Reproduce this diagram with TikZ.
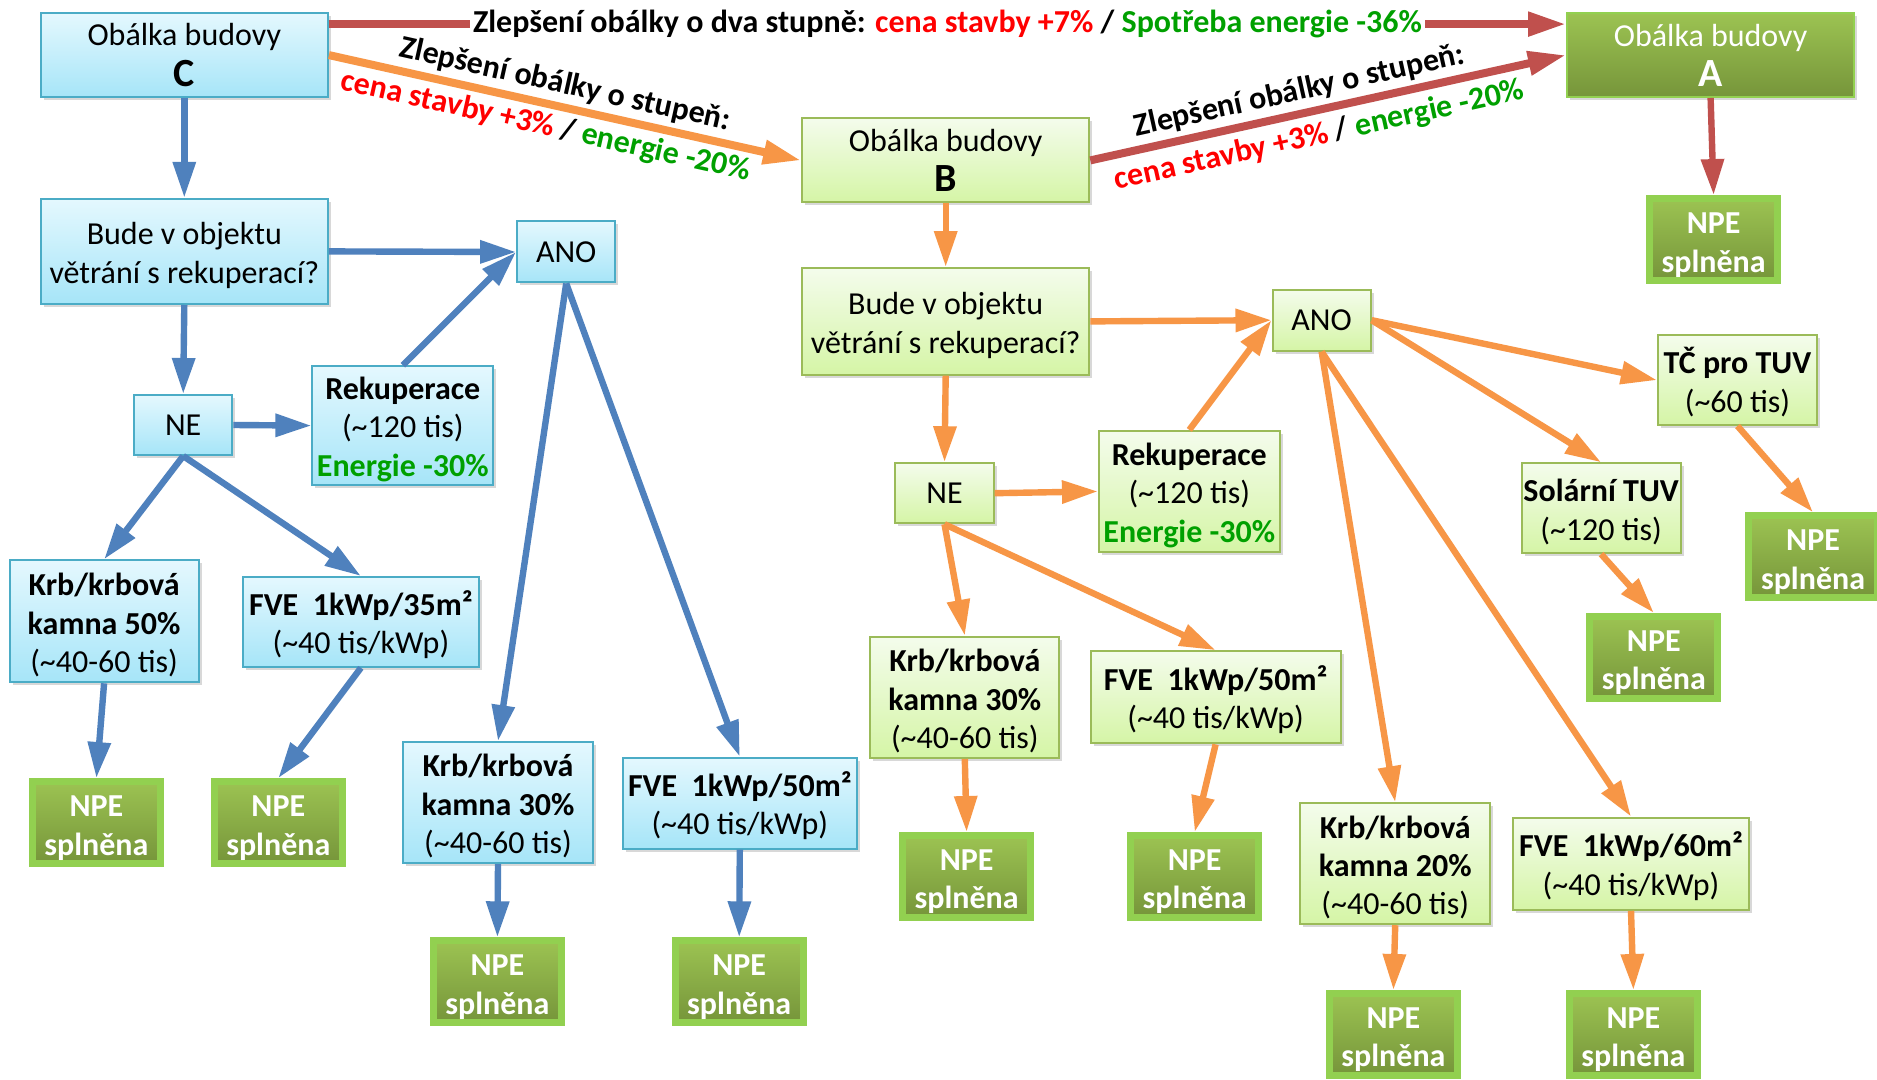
\documentclass[tikz,border=0pt]{standalone}
\usepackage{fontspec}
\setmainfont{Carlito}
\usetikzlibrary{arrows.meta,shadows,calc}
\definecolor{lineblue}{HTML}{4F81BD}
\definecolor{lineorange}{HTML}{F79646}
\definecolor{linered}{HTML}{C0504D}
\definecolor{txtred}{HTML}{FF0000}
\definecolor{txtgreen}{HTML}{00A000}
\definecolor{bluetop}{HTML}{E4F8FE}
\definecolor{bluebot}{HTML}{A6E5F8}
\definecolor{blueedge}{HTML}{4BACC6}
\definecolor{greentop}{HTML}{F4FCEC}
\definecolor{greenbot}{HTML}{D5F5A6}
\definecolor{greenedge}{HTML}{9BBB59}
\definecolor{darktop}{HTML}{9CC352}
\definecolor{darkbot}{HTML}{76953A}
\definecolor{darkedge}{HTML}{92D050}
\newcommand{\bigletter}[1]{{\fontsize{20}{24}\selectfont\textbf{#1}}}
\newcommand{\topstrut}{\rule{0pt}{15pt}}
\newcommand{\npetext}{\rule{0pt}{16pt}NPE\\splněna}
\tikzset{
  base/.style={align=center, inner sep=0pt,
    font=\fontsize{16}{19.2}\selectfont,
    drop shadow={shadow xshift=1.5pt, shadow yshift=-1.5pt, opacity=0.3}},
  bluebox/.style={base, draw=blueedge, line width=1pt, top color=bluetop, bottom color=bluebot},
  greenbox/.style={base, draw=greenedge, line width=1pt, top color=greentop, bottom color=greenbot},
  abox/.style={base, draw=darkedge, line width=1pt, top color=darktop, bottom color=darkbot, text=white},
  npebox/.style={base, draw=darkedge, line width=3.5pt, top color=darktop, bottom color=darkbot,
    text=white, font=\bfseries\fontsize{16}{19.2}\selectfont,
    minimum width=64.1pt, minimum height=40.8pt},
  tipstyle/.style={-{Triangle[length=18pt,width=11pt]}},
  bluearrow/.style={draw=lineblue, line width=3.2pt, tipstyle},
  orarrow/.style={draw=lineorange, line width=3.2pt, tipstyle},
  redarrow/.style={draw=linered, line width=3.2pt, tipstyle},
  bigred/.style={draw=linered, line width=4pt, -{Triangle[length=19pt,width=11.5pt]}},
  bigor/.style={draw=lineorange, line width=4pt, -{Triangle[length=19pt,width=11.5pt]}},
  lbl/.style={font=\bfseries\fontsize{16}{19.2}\selectfont, inner sep=1.5pt},
  slbl/.style={font=\bfseries\fontsize{16}{19.2}\selectfont, inner sep=2.3pt},
}
\begin{document}
\begin{tikzpicture}[x=0.5pt,y=-0.5pt]
\useasboundingbox[fill=white] (0,0) rectangle (1877,1080);

% top row
\node[bluebox, minimum width=143.6pt, minimum height=41.9pt] (C) at (184.3,55.1) {Obálka budovy\\[1pt]\bigletter{C}};
\node[abox, minimum width=143.6pt, minimum height=41.9pt] (A) at (1710.6,55.1) {Obálka budovy\\[1pt]\bigletter{A}};
\node[greenbox, minimum width=143.6pt, minimum height=41.9pt] (B) at (945.7,160.4) {Obálka budovy\\[0.5pt]\bigletter{B}};
\node[npebox] (npe9) at (1713.6,239.4) {\npetext};

% left (blue) branch
\node[bluebox, minimum width=143.6pt, minimum height=52.6pt] (ql) at (184.3,251.4) {\topstrut Bude v objektu\\větrání s rekuperací?};
\node[bluebox, minimum width=49.1pt, minimum height=30.5pt] (ano1) at (566.2,252) {ANO};
\node[bluebox, minimum width=49.1pt, minimum height=30pt] (ne1) at (183.2,425) {NE};
\node[bluebox, minimum width=90.4pt, minimum height=59.3pt] (rek1) at (402.8,425.6) {\topstrut\textbf{Rekuperace}\\(\textasciitilde120 tis)\\\textbf{\textcolor{txtgreen}{Energie -30\%}}};
\node[bluebox, minimum width=94.6pt, minimum height=61pt] (krb50) at (104.1,621.3) {\topstrut\textbf{Krb/krbová}\\\textbf{kamna 50\%}\\(\textasciitilde40-60 tis)};
\node[bluebox, minimum width=117.9pt, minimum height=44.9pt] (fve35) at (360.9,621.9) {\topstrut\textbf{FVE\ \ 1kWp/35m²}\\(\textasciitilde40 tis/kWp)};
\node[npebox] (npe1) at (96.4,822.4) {\npetext};
\node[npebox] (npe2) at (278.3,822.4) {\npetext};
\node[bluebox, minimum width=94.6pt, minimum height=60.5pt] (krb30b) at (498,802.6) {\topstrut\textbf{Krb/krbová}\\\textbf{kamna 30\%}\\(\textasciitilde40-60 tis)};
\node[bluebox, minimum width=117.3pt, minimum height=45.5pt] (fve50b) at (739.8,803.2) {\topstrut\textbf{FVE\ \ 1kWp/50m²}\\(\textasciitilde40 tis/kWp)};
\node[npebox] (npe3) at (497.4,981.6) {\npetext};
\node[npebox] (npe4) at (739.2,981.6) {\npetext};

% right (green) branch
\node[greenbox, minimum width=143.6pt, minimum height=53.3pt] (qg) at (945.7,321.4) {\topstrut Bude v objektu\\větrání s rekuperací?};
\node[greenbox, minimum width=49.1pt, minimum height=30.5pt] (ano2) at (1321.6,320.2) {ANO};
\node[greenbox, minimum width=49.1pt, minimum height=30pt] (ne2) at (944.5,493.2) {NE};
\node[greenbox, minimum width=90.4pt, minimum height=60.5pt] (rek2) at (1189.3,491.4) {\topstrut\textbf{Rekuperace}\\(\textasciitilde120 tis)\\\textbf{\textcolor{txtgreen}{Energie -30\%}}};
\node[greenbox, minimum width=79.6pt, minimum height=44.9pt] (tc) at (1737.5,380.1) {\topstrut\textbf{TČ pro TUV}\\(\textasciitilde60 tis)};
\node[greenbox, minimum width=79.6pt, minimum height=44.9pt] (sol) at (1601.1,508.2) {\topstrut\textbf{Solární TUV}\\(\textasciitilde120 tis)};
\node[npebox] (npe5) at (1813,556.6) {\npetext};
\node[npebox] (npe6) at (1653.8,657.2) {\npetext};
\node[greenbox, minimum width=94.6pt, minimum height=60.5pt] (krb30g) at (964.8,697.3) {\topstrut\textbf{Krb/krbová}\\\textbf{kamna 30\%}\\(\textasciitilde40-60 tis)};
\node[greenbox, minimum width=125.1pt, minimum height=46.1pt] (fve50g) at (1215.6,697.3) {\topstrut\textbf{FVE\ \ 1kWp/50m²}\\(\textasciitilde40 tis/kWp)};
\node[npebox] (npe7) at (966.6,876.3) {\npetext};
\node[npebox] (npe8) at (1194.7,876.3) {\npetext};
\node[greenbox, minimum width=95.2pt, minimum height=60.5pt] (krb20) at (1395.2,863.7) {\topstrut\textbf{Krb/krbová}\\\textbf{kamna 20\%}\\(\textasciitilde40-60 tis)};
\node[greenbox, minimum width=117.9pt, minimum height=46.1pt] (fve60) at (1631,863.7) {\topstrut\textbf{FVE\ \ 1kWp/60m²}\\(\textasciitilde40 tis/kWp)};
\node[npebox] (npe10) at (1393.4,1034.3) {\npetext};
\node[npebox] (npe11) at (1633.4,1034.3) {\npetext};

% envelope improvements
\draw[bigred] ([yshift=15.5pt]C.east) -- node[lbl, fill=white, pos=0.5]{Zlepšení obálky o dva stupně: \textcolor{txtred}{cena stavby +7\%} / \textcolor{txtgreen}{Spotřeba energie -36\%}} ([yshift=15.5pt]A.west);
\draw[bigor] (C.east) --
  node[slbl, sloped, above, pos=0.49]{Zlepšení obálky o stupeň:}
  node[slbl, sloped, below, pos=0.47]{\textcolor{txtred}{cena stavby +3\%} / \textcolor{txtgreen}{energie -20\%}} (B.west);
\draw[bigred] (B.east) --
  node[slbl, sloped, above, pos=0.45]{Zlepšení obálky o stupeň:}
  node[slbl, sloped, below, pos=0.47, yshift=-1.5pt]{\textcolor{txtred}{cena stavby +3\%} / \textcolor{txtgreen}{energie -20\%}} (A.west);
\draw[redarrow] (A.south) -- (npe9.north);

% blue connectors
\draw[bluearrow] (C.south) -- (ql.north);
\draw[bluearrow] (ql.east) -- (ano1.west);
\draw[bluearrow] (ql.south) -- (ne1.north);
\draw[bluearrow] (ne1.east) -- (rek1.west);
\draw[bluearrow] (rek1.north) -- (ano1.west);
\draw[bluearrow] (ne1.south) -- (krb50.north);
\draw[bluearrow] (ne1.south) -- (fve35.north);
\draw[bluearrow] (krb50.south) -- (npe1.north);
\draw[bluearrow] (fve35.south) -- (npe2.north);
\draw[bluearrow] (ano1.south) -- (krb30b.north);
\draw[bluearrow] (ano1.south) -- (fve50b.north);
\draw[bluearrow] (krb30b.south) -- (npe3.north);
\draw[bluearrow] (fve50b.south) -- (npe4.north);

% orange connectors
\draw[orarrow] (B.south) -- (qg.north);
\draw[orarrow] (qg.east) -- (ano2.west);
\draw[orarrow] (qg.south) -- (ne2.north);
\draw[orarrow] (ne2.east) -- (rek2.west);
\draw[orarrow] (rek2.north) -- (ano2.west);
\draw[orarrow] (ne2.south) -- (krb30g.north);
\draw[orarrow] (ne2.south) -- (fve50g.north);
\draw[orarrow] (krb30g.south) -- (npe7.north);
\draw[orarrow] (fve50g.south) -- (npe8.north);
\draw[orarrow] (ano2.east) -- (tc.west);
\draw[orarrow] (ano2.east) -- (sol.north);
\draw[orarrow] (ano2.south) -- (krb20.north);
\draw[orarrow] (ano2.south) -- (fve60.north);
\draw[orarrow] (tc.south) -- (npe5.north);
\draw[orarrow] (sol.south) -- (npe6.north);
\draw[orarrow] (krb20.south) -- (npe10.north);
\draw[orarrow] (fve60.south) -- (npe11.north);
\end{tikzpicture}
\end{document}
